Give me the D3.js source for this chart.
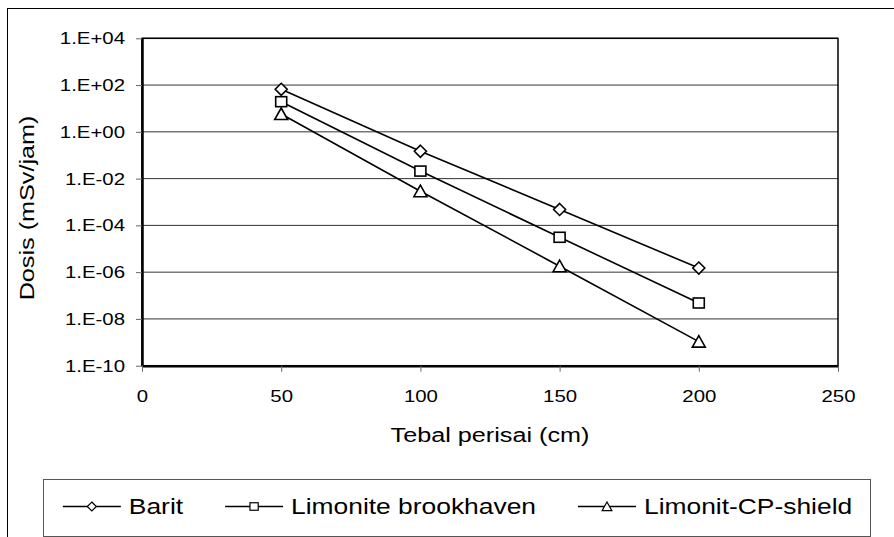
<!DOCTYPE html>
<html>
<head>
<meta charset="utf-8">
<script src="https://cdn.jsdelivr.net/npm/d3@7"></script>
<style>
  body { margin: 0; background: #fff; }
  text { font-family: "Liberation Sans", Arial, sans-serif; fill: #000; }
</style>
</head>
<body>
<script>
// data
var thickness = [50, 100, 150, 200];
var barit = [66, 0.148, 4.8e-4, 1.5e-6];
var limoniteBrookhaven = [19.5, 0.021, 3.1e-5, 4.8e-8];
var limonitCP = [5.8, 2.9e-3, 1.8e-6, 1.07e-9];
var seriesNames = ['Barit', 'Limonite brookhaven', 'Limonit-CP-shield'];
var markerTypes = ['diamond', 'square', 'triangle'];
var xTicks = [0, 50, 100, 150, 200, 250];
var yTicks = [1e4, 1e2, 1, 1e-2, 1e-4, 1e-6, 1e-8, 1e-10];

var series = [barit, limoniteBrookhaven, limonitCP];
var stretch = 1.2; // the source text is a bit wider than Arial

var W = 894, H = 537;
var pLeft = 142, pRight = 838, pTop = 38.3, pBottom = 365.7;

var svg = d3.select('body')
            .append('svg')
            .attr('width', W)
            .attr('height', H);

// outer chart border (runs off the right/bottom edge in the source)
svg.append('rect')
    .attr('x', 7.5).attr('y', 8.5)
    .attr('width', 1000).attr('height', 1000)
    .attr('fill', 'none')
    .attr('stroke', '#000')
    .attr('stroke-width', 1);

var x = d3.scaleLinear().domain([0, 250]).range([pLeft, pRight]);
var y = d3.scaleLog().domain([1e-10, 1e4]).range([pBottom, pTop]);

function sci(d) {
    var e = Math.round(Math.log10(d));
    var s = e < 0 ? '-' : '+';
    var a = Math.abs(e);
    return '1.E' + s + (a < 10 ? '0' + a : a);
}

// gridlines
svg.append('g').selectAll('line')
    .data(yTicks)
    .enter().append('line')
    .attr('x1', pLeft).attr('x2', pRight)
    .attr('y1', function(d){return y(d);})
    .attr('y2', function(d){return y(d);})
    .attr('stroke', '#333')
    .attr('stroke-width', 1);

// plot frame
svg.append('rect')
    .attr('x', pLeft).attr('y', pTop)
    .attr('width', pRight - pLeft).attr('height', pBottom - pTop)
    .attr('fill', 'none')
    .attr('stroke', '#000')
    .attr('stroke-width', 1.5);

// y axis
var yAxis = d3.axisLeft(y).tickValues(yTicks).tickFormat(sci).tickSize(6).tickSizeOuter(0);
var gy = svg.append('g')
    .attr('transform', 'translate(' + pLeft + ',0)')
    .call(yAxis);
gy.select('.domain').attr('stroke', '#000').attr('stroke-width', 2.5);
gy.selectAll('.tick line').attr('stroke', '#666');
gy.selectAll('.tick text')
    .attr('font-size', 17)
    .attr('font-family', '"Liberation Sans", Arial, sans-serif')
    .attr('x', -17 / stretch)
    .attr('transform', 'scale(' + stretch + ',1)');

// x axis
var xAxis = d3.axisBottom(x).tickValues(xTicks).tickSize(6).tickSizeOuter(0);
var gx = svg.append('g')
    .attr('transform', 'translate(0,' + pBottom + ')')
    .call(xAxis);
gx.select('.domain').attr('stroke', '#000').attr('stroke-width', 2.5);
gx.selectAll('.tick line').attr('stroke', '#666');
gx.selectAll('.tick text')
    .attr('font-size', 17)
    .attr('font-family', '"Liberation Sans", Arial, sans-serif')
    .attr('dy', null)
    .attr('y', 36)
    .attr('transform', 'scale(' + stretch + ',1)');

// axis titles
svg.append('text')
    .attr('transform', 'translate(' + ((pLeft + pRight) / 2) + ',442) scale(' + stretch + ',1)')
    .attr('text-anchor', 'middle')
    .attr('font-size', 21)
    .text('Tebal perisai (cm)');

svg.append('text')
    .attr('transform', 'translate(34,' + ((pTop + pBottom) / 2 + 6) + ') rotate(-90) scale(' + stretch + ',1)')
    .attr('text-anchor', 'middle')
    .attr('font-size', 21)
    .text('Dosis (mSv/jam)');

// markers
function marker(sel, type) {
    if (type === 'diamond') {
        sel.append('path').attr('d', 'M0,-6L6,0L0,6L-6,0Z');
    } else if (type === 'square') {
        sel.append('rect').attr('x', -5.5).attr('y', -5).attr('width', 11).attr('height', 10);
    } else {
        sel.append('path').attr('d', 'M0,-6L6.5,5.5L-6.5,5.5Z');
    }
    sel.selectAll('path, rect')
        .attr('fill', '#fff')
        .attr('stroke', '#000')
        .attr('stroke-width', 1.6);
}

var line = d3.line()
    .x(function(d, i){return x(thickness[i]);})
    .y(function(d){return y(d);});

series.forEach(function(vals, k) {
    var g = svg.append('g');
    g.append('path')
        .attr('d', line(vals))
        .attr('fill', 'none')
        .attr('stroke', '#000')
        .attr('stroke-width', 1.6);
    g.selectAll('g.pt')
        .data(vals)
        .enter().append('g')
        .attr('class', 'pt')
        .attr('transform', function(d, i){return 'translate(' + x(thickness[i]) + ',' + y(d) + ')';})
        .each(function(){ marker(d3.select(this), markerTypes[k]); });
});

// legend
var lx0 = 43, lx1 = 870, ly0 = 479, ly1 = 536;
svg.append('rect')
    .attr('x', lx0 + 0.5).attr('y', ly0 + 0.5)
    .attr('width', lx1 - lx0).attr('height', ly1 - ly0)
    .attr('fill', '#fff')
    .attr('stroke', '#555')
    .attr('stroke-width', 1);

var lg = svg.append('g');
var items = lg.selectAll('g.item')
    .data(seriesNames)
    .enter().append('g')
    .attr('class', 'item');

items.append('line')
    .attr('x1', 0).attr('x2', 58)
    .attr('y1', 0).attr('y2', 0)
    .attr('stroke', '#000')
    .attr('stroke-width', 1.6);
items.append('g')
    .attr('transform', 'translate(29,0) scale(0.75)')
    .each(function(d, i){ marker(d3.select(this), markerTypes[i]); });
items.append('text')
    .attr('transform', 'translate(66,7.5) scale(' + stretch + ',1)')
    .attr('font-size', 22)
    .text(function(d){return d;});

var widths = [];
items.each(function(){
    widths.push(66 + d3.select(this).select('text').node().getComputedTextLength() * stretch);
});
var gap = 42;
var total = d3.sum(widths) + gap * (widths.length - 1);
var cx = (lx0 + lx1) / 2 + 1;
var pos = cx - total / 2;
items.attr('transform', function(d, i){
    var t = 'translate(' + pos + ',' + ((ly0 + ly1) / 2 - 1) + ')';
    pos += widths[i] + gap;
    return t;
});
</script>
</body>
</html>
